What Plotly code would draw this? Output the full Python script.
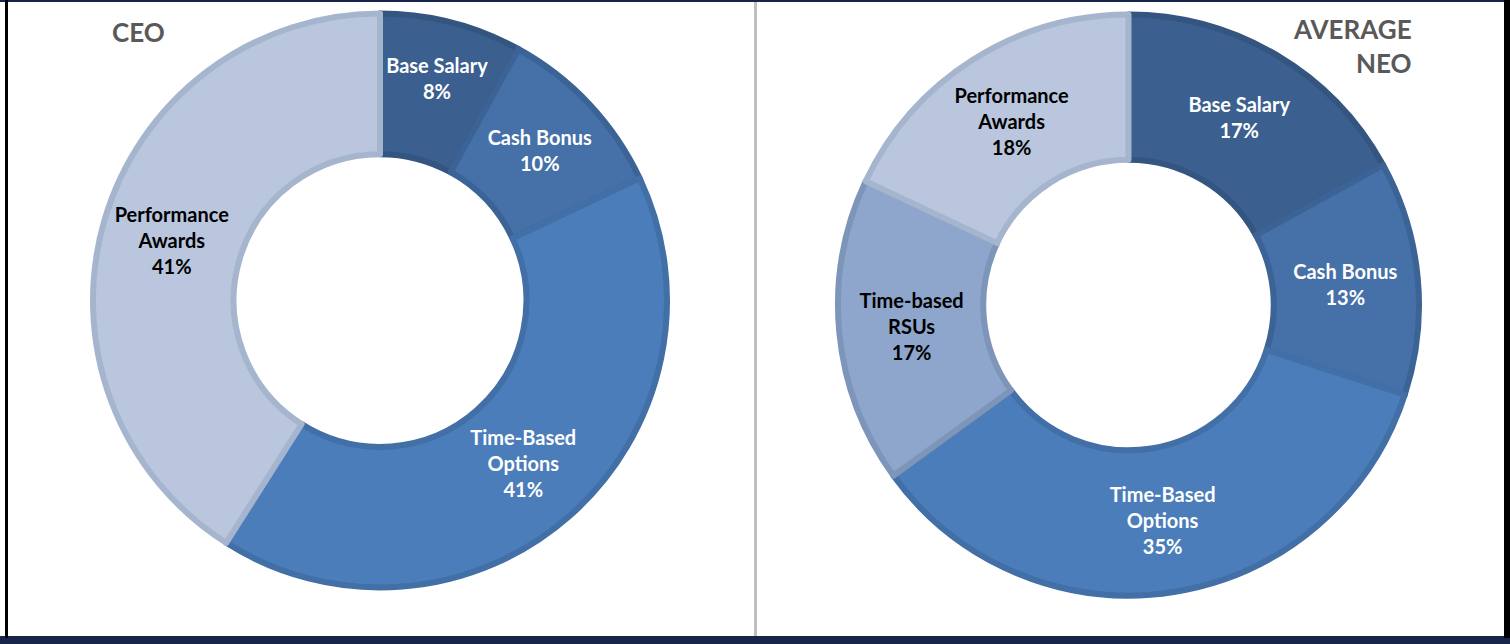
import plotly.graph_objects as go

# ---- data ----
ceo_labels = ["Base Salary", "Cash Bonus", "Time-Based<br>Options", "Performance<br>Awards"]
ceo_values = [8, 10, 41, 41]
neo_labels = ["Base Salary", "Cash Bonus", "Time-Based<br>Options", "Time-based<br>RSUs", "Performance<br>Awards"]
neo_values = [17, 13, 35, 17, 18]

# ---- styles ----
C_BASE, C_CASH, C_OPT, C_RSU, C_PERF = "#3B6090", "#4570A8", "#4A7DBA", "#8EA6CC", "#B9C6DD"
L_BASE, L_CASH, L_OPT, L_RSU, L_PERF = "#33557F", "#3C6395", "#416FA6", "#7E95BA", "#A6B5CE"
ceo_colors = [C_BASE, C_CASH, C_OPT, C_PERF]
ceo_lines = [L_BASE, L_CASH, L_OPT, L_PERF]
ceo_text = ["white", "white", "white", "black"]
neo_colors = [C_BASE, C_CASH, C_OPT, C_RSU, C_PERF]
neo_lines = [L_BASE, L_CASH, L_OPT, L_RSU, L_PERF]
neo_text = ["white", "white", "white", "black", "black"]

W, H = 1510, 644
FONT = "Lato"

def px(x):
    return x / W

def py(y):
    return 1 - y / H

fig = go.Figure()
fig.add_trace(go.Pie(
    labels=ceo_labels, values=ceo_values, hole=0.51, sort=False, direction="clockwise",
    rotation=0, domain=dict(x=[px(93), px(667)], y=[py(588), py(13)]),
    marker=dict(colors=ceo_colors, line=dict(color=ceo_lines, width=6)),
    texttemplate="<b>%{label}<br>%{value}%</b>", textposition="inside",
    insidetextorientation="horizontal",
    textfont=dict(family=FONT, size=20, color=ceo_text),
    showlegend=False, hoverinfo="label+value",
))
fig.add_trace(go.Pie(
    labels=neo_labels, values=neo_values, hole=0.5, sort=False, direction="clockwise",
    rotation=0, domain=dict(x=[px(838), px(1419)], y=[py(596), py(14)]),
    marker=dict(colors=neo_colors, line=dict(color=neo_lines, width=6)),
    texttemplate="<b>%{label}<br>%{value}%</b>", textposition="inside",
    insidetextorientation="horizontal",
    textfont=dict(family=FONT, size=20, color=neo_text),
    showlegend=False, hoverinfo="label+value",
))

shapes = [
    dict(type="rect", xref="paper", yref="paper", x0=px(0), x1=px(1510), y0=py(2), y1=py(0),
         fillcolor="#17254A", line=dict(width=0)),
    dict(type="rect", xref="paper", yref="paper", x0=px(0), x1=px(1510), y0=py(644), y1=py(636),
         fillcolor="#17254A", line=dict(width=0)),
    dict(type="rect", xref="paper", yref="paper", x0=px(5), x1=px(8), y0=py(638), y1=py(0),
         fillcolor="black", line=dict(width=0)),
    dict(type="rect", xref="paper", yref="paper", x0=px(1504), x1=px(1510), y0=py(638), y1=py(0),
         fillcolor="black", line=dict(width=0)),
    dict(type="rect", xref="paper", yref="paper", x0=px(754), x1=px(757), y0=py(636), y1=py(2),
         fillcolor="#BFBFBF", line=dict(width=0)),
]

annotations = [
    dict(text="<b>CEO</b>", xref="paper", yref="paper", x=px(110), y=py(32), xanchor="left",
         yanchor="middle", showarrow=False, font=dict(family=FONT, size=26, color="#595959")),
    dict(text="<b>AVERAGE<br>NEO</b>", xref="paper", yref="paper", x=px(1414), y=py(46), xanchor="right",
         yanchor="middle", align="right", showarrow=False,
         font=dict(family=FONT, size=26, color="#595959")),
]

fig.update_layout(
    width=W, height=H, margin=dict(l=0, r=0, t=0, b=0),
    paper_bgcolor="white", plot_bgcolor="white",
    shapes=shapes, annotations=annotations,
)
fig.write_html("out.html")
